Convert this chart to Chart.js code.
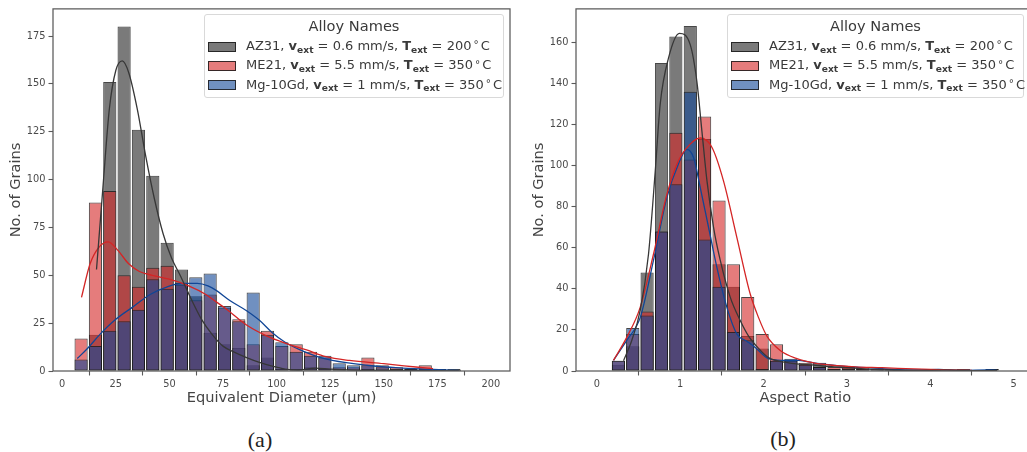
<!DOCTYPE html>
<html><head><meta charset="utf-8">
<script src="https://cdn.jsdelivr.net/npm/chart.js@4.4.1/dist/chart.umd.min.js"></script>
<style>
html,body{margin:0;padding:0;background:#fff;}
body{width:1027px;height:452px;overflow:hidden;position:relative;font-family:"DejaVu Sans",sans-serif;}
.panel{position:absolute;top:0;}
.legend{position:absolute;top:14px;height:84px;background:rgba(255,255,255,0.8);border:1px solid #d9d9d9;border-radius:3px;box-sizing:border-box;color:#3a3a3a;font-size:13px;}
.legend .title{position:absolute;left:0;right:0;top:2px;text-align:center;line-height:18px;font-size:14.6px;}
.legend .row{position:absolute;left:0;right:0;height:18px;white-space:nowrap;line-height:18px;}
.legend .patch{position:absolute;left:3px;top:4.5px;width:28px;height:10px;border:1px solid rgba(25,25,25,0.85);box-sizing:border-box;}
.legend .txt{position:absolute;left:41px;top:0;}
.legend sub{font-size:0.7em;font-weight:bold;position:relative;top:0.3em;vertical-align:baseline;line-height:0;}
.legend .deg{margin:0 2px;font-size:0.8em;position:relative;top:-0.15em;}
.cap{position:absolute;font-family:"Liberation Serif",serif;font-size:22px;line-height:1;color:#222;transform:translate(-50%,-50%);}
</style></head>
<body>
<div class="panel" style="left:0;width:515px;height:420px;"><canvas id="cA" width="515" height="420"></canvas></div>
<div class="panel" style="left:520px;width:520px;height:420px;"><canvas id="cB" width="520" height="420"></canvas></div>

<div class="legend" style="left:204px;width:300px;">
  <div class="title">Alloy Names</div>
  <div class="row" style="top:22px"><span class="patch" style="background:rgba(33,33,33,0.6)"></span><span class="txt">AZ31, <b>v</b><sub>ext</sub> = 0.6 mm/s, <b>T</b><sub>ext</sub> = 200<span class="deg">°</span>C</span></div>
  <div class="row" style="top:41.3px"><span class="patch" style="background:rgba(212,37,37,0.6)"></span><span class="txt">ME21, <b>v</b><sub>ext</sub> = 5.5 mm/s, <b>T</b><sub>ext</sub> = 350<span class="deg">°</span>C</span></div>
  <div class="row" style="top:60.7px"><span class="patch" style="background:rgba(17,70,150,0.6)"></span><span class="txt">Mg-10Gd, <b>v</b><sub>ext</sub> = 1 mm/s, <b>T</b><sub>ext</sub> = 350<span class="deg">°</span>C</span></div>
</div>
<div class="legend" style="left:727px;width:297px;">
  <div class="title">Alloy Names</div>
  <div class="row" style="top:22px"><span class="patch" style="background:rgba(33,33,33,0.6)"></span><span class="txt">AZ31, <b>v</b><sub>ext</sub> = 0.6 mm/s, <b>T</b><sub>ext</sub> = 200<span class="deg">°</span>C</span></div>
  <div class="row" style="top:41.3px"><span class="patch" style="background:rgba(212,37,37,0.6)"></span><span class="txt">ME21, <b>v</b><sub>ext</sub> = 5.5 mm/s, <b>T</b><sub>ext</sub> = 350<span class="deg">°</span>C</span></div>
  <div class="row" style="top:60.7px"><span class="patch" style="background:rgba(17,70,150,0.6)"></span><span class="txt">Mg-10Gd, <b>v</b><sub>ext</sub> = 1 mm/s, <b>T</b><sub>ext</sub> = 350<span class="deg">°</span>C</span></div>
</div>
<div class="cap" style="left:260px;top:440px;">(a)</div>
<div class="cap" style="left:783px;top:439px;">(b)</div>

<script>
// ---------- Panel (a): Equivalent Diameter ----------
const diamBins = [8.81,15.50,22.19,28.88,35.57,42.26,48.95,55.64,62.33,69.02,75.71,82.40,89.09,95.78,102.47,109.16,115.85,122.54,129.23,135.92,142.61,149.30,155.99,162.68,169.37,176.06,182.75,189.44,196.13];
const diamAZ31   = [0,19,151,180,126,102,67,53,39,20,14,12,3,7,1,1,2,1,1,0,1,0,0,0,0,0,0,0,0];
const diamME21   = [17,88,94,50,44,54,55,45,37,40,33,27,14,21,13,14,10,7,2,2,7,3,2,1,3,1,0,0,0];
const diamMg10Gd = [6,13,21,26,32,48,43,46,49,51,34,26,41,19,15,10,8,8,4,3,3,2,1,1,1,1,1,0,0];
const diamKdeAZ31X = [16,19,22,25,28,31,35,39,43,47,51,55,60,65,70,75,80,86,92,98,104,110,118,125,135,150,170,186];
const diamKdeAZ31Y = [53,96,137,157,162,156,137,112,90,72,59,50,38,27,19,13,10,7,4.5,2.5,1,0.5,1.5,1,0.5,0.3,0.2,0];
const diamKdeME21X = [9,13,17,21.5,26,31,36,42,50,59,67,72,77,86,95,105,114,123,134,150,165,173];
const diamKdeME21Y = [38.5,56,64.5,67.5,63,56,52,50,48,44.5,40,36,32,24,18.5,14.2,11,7.5,5.5,3.8,2.1,1.2];
const diamKdeMgX = [7,12,17.5,25,33,41,49,56,63,68,72,78,86,92,98,104,111,119,126,142,157,173,185];
const diamKdeMgY = [6.5,12,19,27,33.5,40,44,45.8,45.8,44.5,42,37,31.5,26.5,20,15,11,7.5,5.5,3,1.6,0.9,0.3];
const diamTicksX = [0,25,50,75,100,125,150,175,200];
const diamTicksY = [0,25,50,75,100,125,150,175];

// ---------- Panel (b): Aspect Ratio ----------
const arBins = [0.086,0.259,0.431,0.603,0.776,0.948,1.121,1.293,1.466,1.638,1.810,1.983,2.155,2.328,2.500,2.672,2.845,3.017,3.190,3.362,3.534,3.707,3.879,4.052,4.224,4.397,4.569,4.741,4.914];
const arAZ31   = [0,3,12,48,150,163,168,113,52,41,17,11,5,5,3,4,1,2,1,1,1,0,0,1,0,0,0,1,0];
const arME21   = [0,5,18,29,68,116,103,124,83,52,36,18,13,5,4,2,2,2,2,1,1,0,0,0,0,1,0,0,0];
const arMg10Gd = [0,5,21,27,68,91,136,64,41,19,15,1,5,6,3,2,1,1,1,1,0,0,0,1,0,0,0,1,0];
const arKdeAZ31X = [0.32,0.42,0.52,0.62,0.70,0.76,0.86,0.99,1.12,1.20,1.26,1.32,1.40,1.48,1.60,1.72,1.82,1.94,2.06,2.30,2.62,3.02,3.42,3.8,4.2,4.6,4.8];
const arKdeAZ31Y = [5,15,29.5,57,97,130,152.5,164.5,159,141,117,93,70,54,36,24.6,17,11,6.5,4,2.8,1.5,0.6,0.3,0.4,0.2,0.2];
const arKdeME21X = [0.2,0.36,0.52,0.68,0.84,0.98,1.12,1.24,1.38,1.52,1.68,1.84,1.94,2.04,2.2,2.4,2.6,2.82,3.1,3.42,3.8,4.2,4.5];
const arKdeME21Y = [5.2,16.5,31,57,86,102.5,110.5,113.5,109,92.5,65,37.5,26,17,10,6,4,2.8,2.0,1.6,1.0,0.5,0.3];
const arKdeMgX = [0.2,0.36,0.52,0.68,0.84,0.98,1.08,1.16,1.24,1.34,1.44,1.56,1.68,1.8,1.9,2.06,2.22,2.42,2.62,3.02,3.42,3.82,4.1,4.4,4.7,4.8];
const arKdeMgY = [5.2,15,26,54,84.5,101,108,104,89.5,70,50.5,31,18,14.5,11.5,6,5.2,5.2,3.8,2.1,1.2,0.5,0.8,0.3,0.5,0.3];
const arTicksX = [0,1,2,3,4,5];
const arTicksY = [0,20,40,60,80,100,120,140,160];

// ---------- styles ----------
const FILL = {az:'rgba(33,33,33,0.6)', me:'rgba(212,37,37,0.6)', mg:'rgba(17,70,150,0.6)'};
const LINE = {az:'rgb(55,55,55)', me:'rgb(212,37,37)', mg:'rgb(17,70,150)'};
const EDGE = 'rgba(25,25,25,0.8)';
const FONT = 'DejaVu Sans';

const framePlugin = {
  id:'frame',
  afterDraw(chart){
    const {ctx, chartArea:a} = chart;
    ctx.save();
    ctx.strokeStyle = '#5a5a5a';
    ctx.lineWidth = 1.25;
    ctx.strokeRect(a.left, a.top, a.right - a.left, a.bottom - a.top);
    ctx.restore();
  }
};

function pts(xs, ys){ return xs.map((x,i)=>({x:x, y:ys[i]})); }

function barDs(bins, vals, color, order){
  return {type:'bar', data:pts(bins, vals), backgroundColor:color, borderColor:EDGE, borderWidth:1,
          borderSkipped:false, grouped:false, barPercentage:0.92, categoryPercentage:1, order:order};
}
function lineDs(xs, ys, color){
  return {type:'line', data:pts(xs, ys), borderColor:color, borderWidth:1.3, pointRadius:0,
          fill:false, cubicInterpolationMode:'monotone', order:0};
}

function makeChart(id, o){
  const tickGrid = {display:true, drawOnChartArea:false, drawTicks:true, tickLength:4.5, tickColor:'#5a5a5a', tickWidth:1.1};
  return new Chart(document.getElementById(id), {
    type:'bar',
    data:{datasets:[
      barDs(o.bins, o.az, FILL.az, 3),
      barDs(o.bins, o.me, FILL.me, 2),
      barDs(o.bins, o.mg, FILL.mg, 1),
      lineDs(o.kaX, o.kaY, LINE.az),
      lineDs(o.kmX, o.kmY, LINE.me),
      lineDs(o.kgX, o.kgY, LINE.mg)
    ]},
    options:{
      responsive:false, animation:false,
      layout:{padding:{left:0, top:7, right:o.padRight, bottom:0}},
      plugins:{legend:{display:false}, tooltip:{enabled:false}},
      scales:{
        x:{type:'linear', offset:false, min:o.xmin, max:o.xmax,
           afterBuildTicks:s=>{ s.ticks = o.ticksX.map(v=>({value:v})); },
           afterFit:s=>{ s.height = 49; },
           grid:tickGrid, border:{display:false},
           ticks:{padding:3, color:'#4a4a4a', font:{family:FONT, size:9.8}, maxRotation:0, autoSkip:false},
           title:{display:true, text:o.xTitle, color:'#444', font:{family:FONT, size:14.6}, padding:{top:0, bottom:13.5}}
        },
        y:{type:'linear', min:0, max:o.ymax,
           afterBuildTicks:s=>{ s.ticks = o.ticksY.map(v=>({value:v})); },
           afterFit:s=>{ s.width = o.yWidth; },
           grid:tickGrid, border:{display:false},
           ticks:{padding:3, color:'#4a4a4a', font:{family:FONT, size:9.8}, autoSkip:false},
           title:{display:true, text:'No. of Grains', color:'#444', font:{family:FONT, size:14.6}, padding:{top:o.yTitlePad, bottom:0}}
        }
      }
    },
    plugins:[framePlugin]
  });
}

makeChart('cA', {bins:diamBins, az:diamAZ31, me:diamME21, mg:diamMg10Gd,
  kaX:diamKdeAZ31X, kaY:diamKdeAZ31Y, kmX:diamKdeME21X, kmY:diamKdeME21Y, kgX:diamKdeMgX, kgY:diamKdeMgY,
  ticksX:diamTicksX, ticksY:diamTicksY, xmin:-4.3, xmax:208.9, ymax:189.2,
  xTitle:'Equivalent Diameter (µm)', yWidth:53, yTitlePad:7.2, padRight:5});

makeChart('cB', {bins:arBins, az:arAZ31, me:arME21, mg:arMg10Gd,
  kaX:arKdeAZ31X, kaY:arKdeAZ31Y, kmX:arKdeME21X, kmY:arKdeME21Y, kgX:arKdeMgX, kgY:arKdeMgY,
  ticksX:arTicksX, ticksY:arTicksY, xmin:-0.25, xmax:5.25, ymax:176.4,
  xTitle:'Aspect Ratio', yWidth:56, yTitlePad:10.4, padRight:5.5});
</script>
</body></html>
